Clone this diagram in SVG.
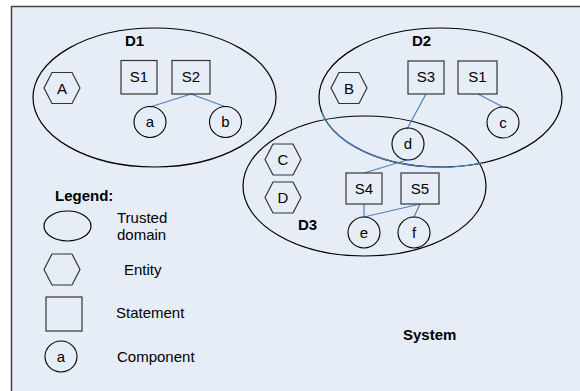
<svg xmlns="http://www.w3.org/2000/svg" width="580" height="391" viewBox="0 0 580 391">
<style>
text{font-family:"Liberation Sans",Arial,sans-serif;font-size:15px;fill:#000;}
.b{font-weight:bold;}
.m{text-anchor:middle;}
.dom{fill:none;stroke:#000;stroke-width:1.2;}
.st{fill:none;stroke:#333;stroke-width:1.2;}
.hx{fill:none;stroke:#333;stroke-width:1.2;}
.cp{fill:none;stroke:#000;stroke-width:1.1;}
.cn{fill:none;stroke:#4F81BD;stroke-width:1.2;}
</style>
<rect x="0" y="0" width="580" height="391" fill="#fff"/>
<rect x="11.5" y="6.5" width="620" height="420" fill="#E7EDF7" stroke="#444" stroke-width="1.5"/>

<g id="D1"><ellipse class="dom" cx="154.5" cy="97.5" rx="121.5" ry="69.5"/><text class="b" x="125" y="46">D1</text></g>
<g id="D2"><ellipse class="dom" cx="440.5" cy="97.5" rx="121.5" ry="69.5"/><text class="b" x="412" y="46">D2</text></g>
<g id="D3"><ellipse class="dom" cx="364.5" cy="186" rx="121.5" ry="70"/><text class="b" x="298" y="230">D3</text></g>

<g id="connectors">
<path class="cn" d="M191 94 L150 107 M191 94 L226 107"/>
<path class="cn" d="M426 94 L407 129 M478 94 L503 107"/>
<path class="cn" d="M407 160 L364 173 M364 204 L364 217 M420 204 L364 217 M420 204 L414 217"/>
<path class="cn" d="M321.7 112 A121.5 69.5 0 0 0 482 163"/>
</g>

<g id="A"><polygon class="hx" points="44,88 52,72.5 72,72.5 80,88 72,103.5 52,103.5"/><text class="m" x="62" y="93.5">A</text></g>
<g id="D1-S1"><rect class="st" x="121" y="60.5" width="36" height="33.5"/><text class="m" x="139" y="82">S1</text></g>
<g id="S2"><rect class="st" x="172" y="60.5" width="38" height="33.5"/><text class="m" x="191" y="82">S2</text></g>
<g id="a"><ellipse class="cp" cx="150" cy="122" rx="16" ry="15.5"/><text class="m" x="150" y="127">a</text></g>
<g id="b"><ellipse class="cp" cx="225.5" cy="122" rx="16" ry="15.5"/><text class="m" x="225.5" y="127">b</text></g>

<g id="B"><polygon class="hx" points="331,88 339,72.5 359,72.5 367,88 359,103.5 339,103.5"/><text class="m" x="349" y="93.5">B</text></g>
<g id="S3"><rect class="st" x="408" y="61" width="36" height="33"/><text class="m" x="426" y="82">S3</text></g>
<g id="D2-S1"><rect class="st" x="458" y="61" width="39" height="33"/><text class="m" x="477.5" y="82">S1</text></g>
<g id="c"><ellipse class="cp" cx="503" cy="122.5" rx="16" ry="15.5"/><text class="m" x="503" y="127.5">c</text></g>
<g id="d"><ellipse class="cp" cx="408" cy="144" rx="16" ry="16"/><text class="m" x="408" y="149">d</text></g>

<g id="C"><polygon class="hx" points="265,159.5 273,144 293,144 301,159.5 293,175 273,175"/><text class="m" x="283" y="165">C</text></g>
<g id="D"><polygon class="hx" points="265,197.5 273,182 293,182 301,197.5 293,213 273,213"/><text class="m" x="283" y="203">D</text></g>
<g id="S4"><rect class="st" x="346" y="173" width="36" height="31"/><text class="m" x="364" y="193.5">S4</text></g>
<g id="S5"><rect class="st" x="401" y="173" width="38" height="31"/><text class="m" x="420" y="193.5">S5</text></g>
<g id="e"><ellipse class="cp" cx="364" cy="232.5" rx="16" ry="15.5"/><text class="m" x="364" y="237.5">e</text></g>
<g id="f"><ellipse class="cp" cx="414" cy="232.5" rx="16" ry="15.5"/><text class="m" x="414" y="237.5">f</text></g>

<g id="system-label"><text class="b" x="403" y="340">System</text></g>

<g id="legend">
<text class="b" x="55" y="201">Legend:</text>
<ellipse class="dom" cx="67.5" cy="226" rx="23.5" ry="15"/>
<text x="117" y="222.5">Trusted</text>
<text x="117" y="240">domain</text>
<polygon class="hx" points="44,269.5 52,254 72,254 80,269.5 72,285 52,285"/>
<text x="124" y="274.5">Entity</text>
<rect class="st" x="46" y="297" width="36" height="34"/>
<text x="116" y="318">Statement</text>
<ellipse class="cp" cx="61" cy="356.5" rx="16" ry="15.5"/>
<text class="m" x="61" y="361.5">a</text>
<text x="117" y="362">Component</text>
</g>
</svg>
